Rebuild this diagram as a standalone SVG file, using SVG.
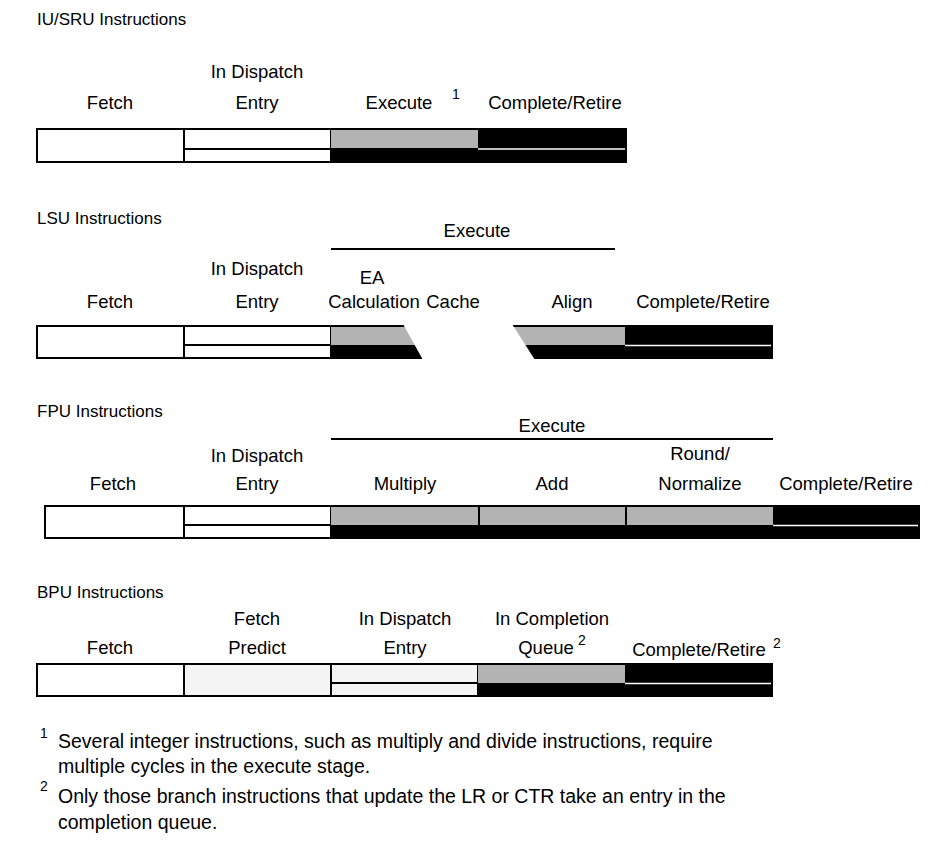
<svg xmlns="http://www.w3.org/2000/svg" width="939" height="861" viewBox="0 0 939 861">
  <style>
    text { font-family: "Liberation Sans", Arial, Helvetica, sans-serif; font-size: 18.5px; fill: #000; }
    .title { font-size: 17px; }
    .note { font-size: 19.5px; }
    .c { text-anchor: middle; }
    .sup { font-size: 14px; }
    .box { fill: #fff; stroke: #000; stroke-width: 2; }
    .lbox { fill: #f4f4f4; stroke: #000; stroke-width: 2; }
    .gray { fill: #b3b3b3; }
    .blk { fill: #000; }
    .rule { stroke: #000; stroke-width: 2; fill: none; }
    .wline { stroke: #fff; stroke-width: 1.6; }
  </style>

  <!-- ===== IU/SRU ===== -->
  <g id="iu">
    <text class="title" x="37" y="25">IU/SRU Instructions</text>
    <g id="iu-fetch">
      <text class="c" x="110" y="109">Fetch</text>
      <rect class="box" x="37" y="129" width="147" height="33"/>
    </g>
    <g id="iu-dispatch">
      <text class="c" x="257" y="78">In Dispatch</text>
      <text class="c" x="257" y="109">Entry</text>
      <rect class="box" x="184" y="129" width="147" height="20"/>
      <rect class="box" x="184" y="149" width="147" height="13"/>
    </g>
    <g id="iu-execute">
      <text class="c" x="399" y="109">Execute</text>
      <text class="sup" x="452" y="99">1</text>
      <rect class="gray" x="331" y="129" width="147" height="19"/>
      <rect class="blk" x="331" y="148" width="147" height="15"/>
      <line class="rule" x1="331" y1="129" x2="478" y2="129"/>
    </g>
    <g id="iu-complete">
      <text class="c" x="555" y="109">Complete/Retire</text>
      <rect class="blk" x="478" y="128" width="149" height="35"/>
      <line class="wline" x1="478" y1="149" x2="625" y2="149"/>
    </g>
  </g>

  <!-- ===== LSU ===== -->
  <g id="lsu">
    <text class="title" x="37" y="224">LSU Instructions</text>
    <g id="lsu-fetch">
      <text class="c" x="110" y="308">Fetch</text>
      <rect class="box" x="37" y="326" width="147" height="32"/>
    </g>
    <g id="lsu-dispatch">
      <text class="c" x="257" y="275">In Dispatch</text>
      <text class="c" x="257" y="308">Entry</text>
      <rect class="box" x="184" y="326" width="147" height="19"/>
      <rect class="box" x="184" y="345" width="147" height="13"/>
    </g>
    <g id="lsu-execute">
      <text class="c" x="477" y="237">Execute</text>
      <line class="rule" x1="331" y1="249" x2="615" y2="249"/>
      <text class="c" x="372" y="284">EA</text>
      <text class="c" x="374" y="308">Calculation</text>
      <text class="c" x="453" y="308">Cache</text>
      <text class="c" x="572" y="308">Align</text>
      <rect class="gray" x="331" y="326" width="294" height="19"/>
      <rect class="blk" x="331" y="345" width="294" height="14"/>
      <line class="rule" x1="331" y1="326" x2="625" y2="326"/>
      <!-- cache stage: open slanted gap -->
      <polygon fill="#fff" points="403,324 512,324 535,360 423,360"/>
    </g>
    <g id="lsu-complete">
      <text class="c" x="703" y="308">Complete/Retire</text>
      <rect class="blk" x="625" y="325" width="148" height="34"/>
      <line class="wline" x1="625" y1="345.5" x2="771" y2="345.5"/>
    </g>
  </g>

  <!-- ===== FPU ===== -->
  <g id="fpu">
    <text class="title" x="37" y="417">FPU Instructions</text>
    <g id="fpu-fetch">
      <text class="c" x="113" y="490">Fetch</text>
      <rect class="box" x="45" y="506" width="139" height="32"/>
    </g>
    <g id="fpu-dispatch">
      <text class="c" x="257" y="462">In Dispatch</text>
      <text class="c" x="257" y="490">Entry</text>
      <rect class="box" x="184" y="506" width="147" height="19"/>
      <rect class="box" x="184" y="525" width="147" height="13"/>
    </g>
    <g id="fpu-execute">
      <text class="c" x="552" y="432">Execute</text>
      <line class="rule" x1="331" y1="439" x2="773" y2="439"/>
      <text class="c" x="405" y="490">Multiply</text>
      <text class="c" x="552" y="490">Add</text>
      <text class="c" x="700" y="460">Round/</text>
      <text class="c" x="700" y="490">Normalize</text>
      <rect class="gray" x="331" y="506" width="442" height="19"/>
      <rect class="blk" x="331" y="525" width="442" height="14"/>
      <line class="rule" x1="331" y1="506" x2="773" y2="506"/>
      <line class="rule" x1="479" y1="506" x2="479" y2="525"/>
      <line class="rule" x1="626" y1="506" x2="626" y2="525"/>
    </g>
    <g id="fpu-complete">
      <text class="c" x="846" y="490">Complete/Retire</text>
      <rect class="blk" x="773" y="505" width="147" height="34"/>
      <line class="wline" x1="773" y1="525.5" x2="918" y2="525.5"/>
    </g>
  </g>

  <!-- ===== BPU ===== -->
  <g id="bpu">
    <text class="title" x="37" y="598">BPU Instructions</text>
    <g id="bpu-fetch">
      <text class="c" x="110" y="654">Fetch</text>
      <rect class="box" x="37" y="664" width="147" height="32"/>
    </g>
    <g id="bpu-predict">
      <text class="c" x="257" y="625">Fetch</text>
      <text class="c" x="257" y="654">Predict</text>
      <rect class="lbox" x="184" y="664" width="147" height="32"/>
    </g>
    <g id="bpu-dispatch">
      <text class="c" x="405" y="625">In Dispatch</text>
      <text class="c" x="405" y="654">Entry</text>
      <rect class="lbox" x="331" y="664" width="147" height="19"/>
      <rect class="lbox" x="331" y="683" width="147" height="13"/>
    </g>
    <g id="bpu-queue">
      <text class="c" x="552" y="625">In Completion</text>
      <text class="c" x="546" y="654">Queue</text>
      <text class="sup" x="578" y="645">2</text>
      <rect class="gray" x="478" y="664" width="147" height="19"/>
      <rect class="blk" x="478" y="683" width="147" height="14"/>
      <line class="rule" x1="478" y1="664" x2="625" y2="664"/>
    </g>
    <g id="bpu-complete">
      <text class="c" x="699" y="656">Complete/Retire</text>
      <text class="sup" x="773" y="648">2</text>
      <rect class="blk" x="625" y="663" width="148" height="34"/>
      <line class="wline" x1="625" y1="683.5" x2="771" y2="683.5"/>
    </g>
  </g>

  <!-- ===== Notes ===== -->
  <g id="notes">
    <text class="sup" x="40" y="738">1</text>
    <text class="note" x="58" y="748">Several integer instructions, such as multiply and divide instructions, require</text>
    <text class="note" x="58" y="773">multiple cycles in the execute stage.</text>
    <text class="sup" x="40" y="791">2</text>
    <text class="note" x="58" y="803">Only those branch instructions that update the LR or CTR take an entry in the</text>
    <text class="note" x="58" y="829">completion queue.</text>
  </g>
</svg>
